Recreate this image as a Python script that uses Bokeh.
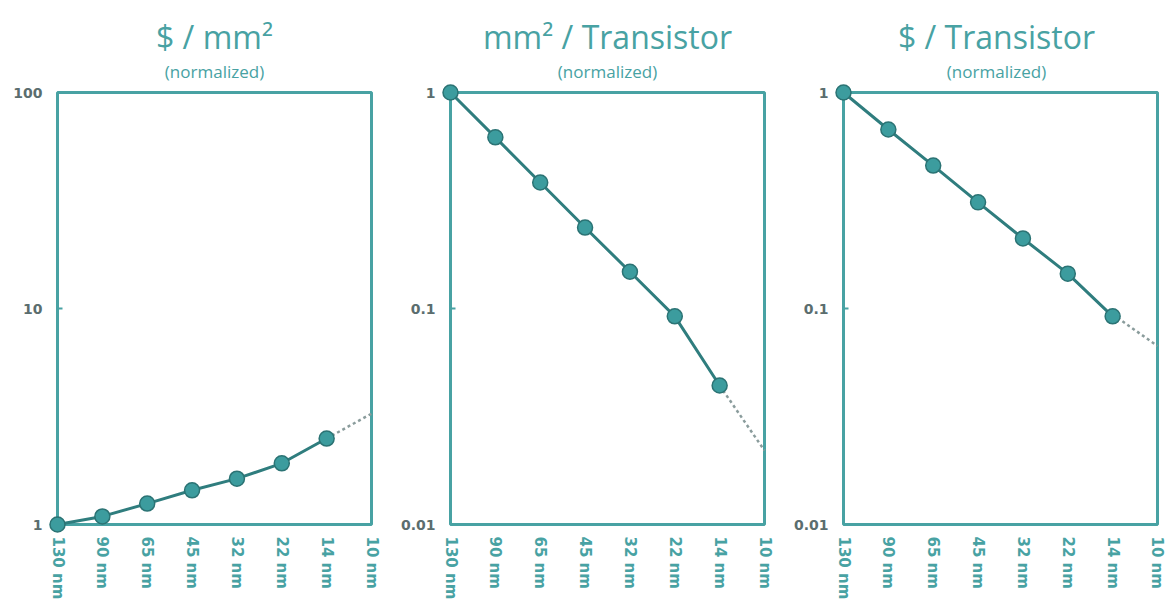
import math
from bokeh.plotting import figure
from bokeh.layouts import row
from bokeh.models import FixedTicker, Title, Range1d, ColumnDataSource
from bokeh.embed import file_html
from bokeh.resources import INLINE

nodes = ["130 nm", "90 nm", "65 nm", "45 nm", "32 nm", "22 nm", "14 nm", "10 nm"]

cost_per_area = [1.0, 1.09, 1.25, 1.44, 1.63, 1.92, 2.5]
cost_per_area_proj = [2.5, 3.26]

area_per_tr = [1.0, 0.62, 0.383, 0.237, 0.148, 0.092, 0.044]
area_per_tr_proj = [0.044, 0.022]

cost_per_tr = [1.0, 0.674, 0.459, 0.31, 0.211, 0.145, 0.092]
cost_per_tr_proj = [0.094, 0.067]

titles = ["$ / mm\u00b2", "mm\u00b2 / Transistor", "$ / Transistor"]
subtitle = "(normalized)"
y_ranges = [(1, 100), (0.01, 1), (0.01, 1)]
y_ticks = [[1, 10, 100], [0.01, 0.1, 1], [0.01, 0.1, 1]]
y_labels = [{1: "1", 10: "10", 100: "100"},
            {0.01: "0.01", 0.1: "0.1", 1: "1"},
            {0.01: "0.01", 0.1: "0.1", 1: "1"}]
series = [cost_per_area, area_per_tr, cost_per_tr]
proj = [cost_per_area_proj, area_per_tr_proj, cost_per_tr_proj]

TEAL = "#48a2a3"
LINE = "#2f7d7e"
FILL = "#3c9c9e"
EDGE = "#2b7374"
DASH = "#8a9c9c"
FONT = "Open Sans"
TICKFONT = "DejaVu Sans"

BOX_W, BOX_H = 314, 432      # pixel size of the drawn frame box
PAD = 10                     # room so edge markers are not clipped
n = len(nodes) - 1
px_per_unit = BOX_W / n

borders_left = [47, 45, 45]
borders_right = [14, 14, 6]
pads_right = [PAD, PAD, 2]

figs = []
for i in range(3):
    pad_r = pads_right[i]
    y0, y1 = y_ranges[i]
    decades = math.log10(y1) - math.log10(y0)
    px_per_dec = BOX_H / decades
    fy = 10 ** (PAD / px_per_dec)
    fw = BOX_W + PAD + pad_r
    p = figure(output_backend="svg", toolbar_location=None, y_axis_type="log",
               frame_width=fw, frame_height=BOX_H + 2 * PAD,
               width=borders_left[i] + fw + borders_right[i],
               min_border_left=borders_left[i], min_border_right=borders_right[i],
               min_border_top=82, min_border_bottom=70,
               x_range=Range1d(-PAD / px_per_unit, n + pad_r / px_per_unit),
               y_range=Range1d(y0 / fy, y1 * fy))
    p.add_layout(Title(text=subtitle, align="center", text_font=FONT,
                       text_font_size="17px", text_color=TEAL,
                       text_font_style="normal", standoff=0), "above")
    p.add_layout(Title(text=titles[i], align="center", text_font=FONT,
                       text_font_size="32px", text_color=TEAL,
                       text_font_style="normal", standoff=0), "above")
    p.outline_line_color = None
    p.xgrid.visible = False
    p.ygrid.visible = False
    p.background_fill_color = "white"
    p.border_fill_color = "white"

    # frame box spanning the data range
    p.quad(left=0, right=n, bottom=y0, top=y1, fill_color=None,
           line_color=TEAL, line_width=3)
    # inward y ticks
    p.segment(x0=[0] * len(y_ticks[i]), x1=[5 / px_per_unit] * len(y_ticks[i]),
              y0=y_ticks[i], y1=y_ticks[i], line_color=TEAL, line_width=2)

    p.xaxis.ticker = FixedTicker(ticks=list(range(len(nodes))))
    p.xaxis.major_label_overrides = {k: v for k, v in enumerate(nodes)}
    p.xaxis.major_label_orientation = "vertical"
    p.xaxis.axis_line_color = None
    p.xaxis.major_tick_line_color = None
    p.xaxis.minor_tick_line_color = None
    p.xaxis.major_tick_in = 0
    p.xaxis.major_tick_out = 0
    p.xaxis.minor_tick_in = 0
    p.xaxis.minor_tick_out = 0
    p.xaxis.major_label_text_color = TEAL
    p.xaxis.major_label_text_font = TICKFONT
    p.xaxis.major_label_text_font_size = "15px"
    p.xaxis.major_label_text_font_style = "bold"
    p.xaxis.major_label_standoff = 2

    p.yaxis.ticker = FixedTicker(ticks=y_ticks[i], minor_ticks=[])
    p.yaxis.major_label_overrides = y_labels[i]
    p.yaxis.axis_line_color = None
    p.yaxis.major_tick_line_color = None
    p.yaxis.minor_tick_line_color = None
    p.yaxis.major_tick_in = 0
    p.yaxis.major_tick_out = 0
    p.yaxis.minor_tick_in = 0
    p.yaxis.minor_tick_out = 0
    p.yaxis.major_label_text_color = "#5b6d6e"
    p.yaxis.major_label_text_font = TICKFONT
    p.yaxis.major_label_text_font_size = "14px"
    p.yaxis.major_label_text_font_style = "bold"
    p.yaxis.major_label_standoff = 5

    xs = list(range(len(series[i])))
    src = ColumnDataSource(dict(x=xs, y=series[i]))
    p.line(x=[len(xs) - 1, len(xs)], y=proj[i], line_color=DASH,
           line_width=2.5, line_dash="3 3")
    p.line("x", "y", source=src, line_color=LINE, line_width=3)
    p.scatter("x", "y", source=src, size=15, fill_color=FILL,
              line_color=EDGE, line_width=1.5)
    figs.append(p)

layout = row(*figs, spacing=0)
open("out.html", "w").write(file_html(layout, INLINE))
